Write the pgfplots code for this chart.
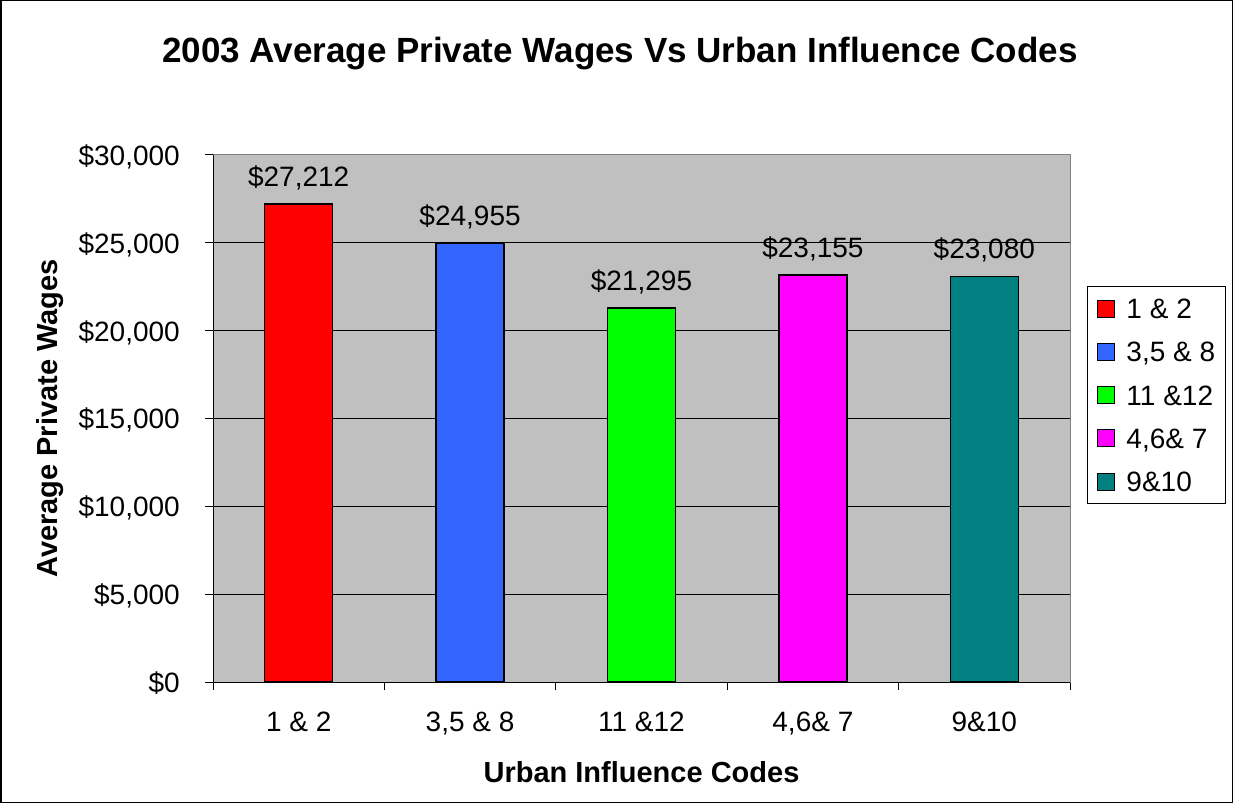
\documentclass[border=0pt]{standalone}
\usepackage{fontspec}
\setmainfont{Liberation Sans}
\usepackage{pgfplots}
\pgfplotsset{compat=1.18}
\definecolor{plotbg}{RGB}{192,192,192}
\definecolor{c1}{RGB}{255,0,0}
\definecolor{c2}{RGB}{51,102,255}
\definecolor{c3}{RGB}{0,255,0}
\definecolor{c4}{RGB}{255,0,255}
\definecolor{c5}{RGB}{0,128,128}
\begin{document}
\begin{tikzpicture}[x=1pt,y=1pt]
\useasboundingbox (0,0) rectangle (1233,803);
\draw[black,line width=1.5pt] (0.75,0.75) rectangle (1232.25,802.25);
\node[font=\fontsize{35}{40}\selectfont\bfseries, anchor=base] at (620,740.5) {2003 Average Private Wages Vs Urban Influence Codes};
\begin{axis}[
  at={(213pt,121pt)}, anchor=south west,
  scale only axis, width=857pt, height=527pt,
  xmin=0.5, xmax=5.5, ymin=0, ymax=30000,
  ybar, bar width=68pt,
  axis background/.style={fill=plotbg},
  axis line style={draw=gray, line width=1pt},
  ymajorgrids, grid style={black, line width=1pt},
  scaled y ticks=false,
  ytick={0,5000,10000,15000,20000,25000,30000},
  yticklabels={{\$0},{\$5,000},{\$10,000},{\$15,000},{\$20,000},{\$25,000},{\$30,000}},
  x tick label as interval,
  xtick={0.5,1.5,2.5,3.5,4.5,5.5},
  xticklabels={{1 \& 2},{3,5 \& 8},{11 \&12},{4,6\& 7},{9\&10}},
  tick align=outside, tick pos=left, major tick length=8pt,
  tick style={black, line width=1pt},
  ticklabel style={font=\fontsize{28}{32}\selectfont},
  y tick label style={inner sep=0pt, text depth=0pt, xshift=-25pt},
  x tick label style={inner sep=0pt, text height=20pt, text depth=0pt, anchor=north, yshift=-21pt},
  xlabel={Urban Influence Codes}, ylabel={Average Private Wages},
  label style={font=\fontsize{29}{34}\selectfont\bfseries},
  xlabel style={at={(axis description cs:0.5,-0.1708)}, anchor=center},
  ylabel style={at={(axis description cs:-0.1902,0.5)}, anchor=center},
  legend style={at={(1.0198,0.7514)}, anchor=north west, draw=black, line width=1pt,
    inner xsep=10pt, inner ysep=12pt, row sep=23.25pt, column sep=11pt,
    font=\fontsize{28}{32}\selectfont,
    nodes={inner sep=0pt, text height=20pt, text depth=0pt}, cells={anchor=west}},
  legend image code/.code={\draw[#1, line width=1pt] (0pt,-8.5pt) rectangle (17pt,8.5pt);},
  /pgf/number format/fixed,
  /pgf/number format/1000 sep={,},
  /pgf/number format/assume math mode=true,
  nodes near coords={\$\pgfmathprintnumber{\pgfplotspointmeta}},
  every node near coord/.append style={font=\fontsize{28}{32}\selectfont, inner sep=0pt, text depth=0pt, anchor=south, yshift=17pt},
]
\addplot[fill=c1, draw=black, line width=1.5pt, bar shift=0pt] coordinates {(1,27212)};
\addplot[fill=c2, draw=black, line width=1.5pt, bar shift=0pt] coordinates {(2,24955)};
\addplot[fill=c3, draw=black, line width=1.5pt, bar shift=0pt] coordinates {(3,21295)};
\addplot[fill=c4, draw=black, line width=1.5pt, bar shift=0pt] coordinates {(4,23155)};
\addplot[fill=c5, draw=black, line width=1.5pt, bar shift=0pt] coordinates {(5,23080)};
\legend{{1 \& 2},{3,5 \& 8},{11 \&12},{4,6\& 7},{9\&10}}
\draw[black, line width=1pt] (rel axis cs:0,1) -- (rel axis cs:0,0) -- (rel axis cs:1,0);
\end{axis}
\end{tikzpicture}
\end{document}
